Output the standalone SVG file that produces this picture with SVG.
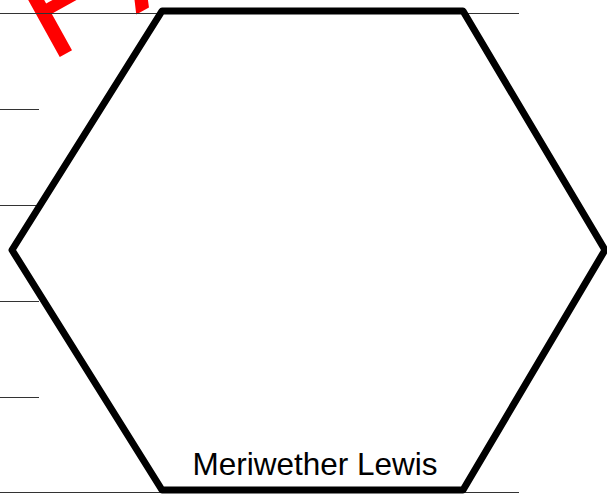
<svg xmlns="http://www.w3.org/2000/svg" width="607" height="496" viewBox="0 0 607 496">
  <style>
    .guide { stroke: #333333; stroke-width: 1.2; fill: none; }
    .hex { fill: #ffffff; stroke: #000000; stroke-width: 7; stroke-linejoin: round; }
    .label { font-family: "Liberation Sans", Arial, sans-serif; font-size: 31.5px; fill: #000000; }
    .stamp { font-family: "Liberation Sans", Arial, sans-serif; font-size: 150px; fill: #ff0000; letter-spacing: 16px; }
  </style>
  <rect width="607" height="496" fill="#ffffff"/>
  <g id="watermark">
    <text class="stamp" transform="translate(49,63) rotate(-29)">FAKE</text>
  </g>
  <g id="guides">
    <line class="guide" x1="0" y1="13.5" x2="519" y2="13.5"/>
    <line class="guide" x1="0" y1="109.5" x2="39" y2="109.5"/>
    <line class="guide" x1="0" y1="205.5" x2="39" y2="205.5"/>
    <line class="guide" x1="0" y1="301.5" x2="39" y2="301.5"/>
    <line class="guide" x1="0" y1="397.5" x2="39" y2="397.5"/>
    <line class="guide" x1="0" y1="492.5" x2="519" y2="492.5"/>
  </g>
  <g id="connectors"></g>
  <g id="node-meriwether-lewis">
    <polygon class="hex" points="162,11 463,11 605,250 463,490 162,490 12,250"/>
    <text class="label" x="315" y="475" text-anchor="middle">Meriwether Lewis</text>
  </g>
</svg>
